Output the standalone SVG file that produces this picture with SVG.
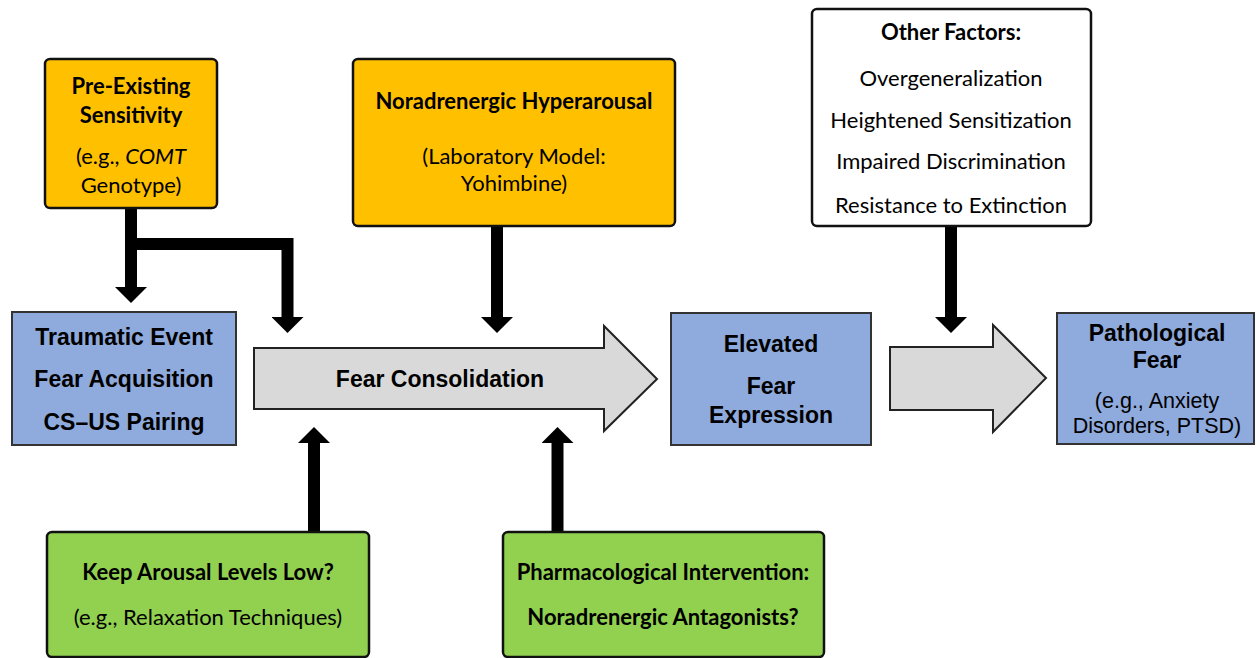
<svg xmlns="http://www.w3.org/2000/svg" width="1256" height="658" viewBox="0 0 1256 658">
  <defs>
    <marker id="head" viewBox="0 0 16 32" markerWidth="16" markerHeight="32" markerUnits="userSpaceOnUse" refX="0" refY="16" orient="auto">
      <path d="M0,0 L16,16 L0,32 z" fill="#000"/>
    </marker>
    <style>
      .amber { fill: #FFC000; stroke: #111; stroke-width: 2.5; }
      .green { fill: #92D050; stroke: #111; stroke-width: 2.5; }
      .plain { fill: #FFFFFF; stroke: #111; stroke-width: 2.5; }
      .blue { fill: #8FAADC; stroke: #333; stroke-width: 2; }
      .flow { fill: #D9D9D9; stroke: #222; stroke-width: 2; }
      .link { fill: none; stroke: #000; stroke-width: 12; stroke-linejoin: miter; marker-end: url(#head); }
      .cb { font-family: Lato, "Noto Sans", sans-serif; font-weight: bold; font-size: 22px; fill: #000; text-anchor: middle; }
      .cr { font-family: Lato, "Noto Sans", sans-serif; font-size: 22px; fill: #000; text-anchor: middle; }
      .ab { font-family: "Liberation Sans", Arial, sans-serif; font-weight: bold; font-size: 23px; fill: #000; text-anchor: middle; }
      .ar { font-family: "Liberation Sans", Arial, sans-serif; font-size: 21.5px; fill: #000; text-anchor: middle; }
    </style>
  </defs>

  <!-- connectors -->
  <g id="connectors">
    <path class="link" d="M131,208 V287"/>
    <path class="link" d="M131,244 H287.5 V317"/>
    <path class="link" d="M497,226 V317"/>
    <path class="link" d="M951,227 V317"/>
    <path class="link" d="M314,532 V443"/>
    <path class="link" d="M557.5,532 V443"/>
  </g>

  <g id="pre-existing-sensitivity">
    <rect class="amber" x="45" y="59" width="172" height="149" rx="5"/>
    <text class="cb" x="131" y="94" font-size="21">Pre-Existing</text>
    <text class="cb" x="131" y="123" font-size="21">Sensitivity</text>
    <text class="cr" x="131" y="164">(e.g., <tspan font-style="italic">COMT</tspan></text>
    <text class="cr" x="131" y="193">Genotype)</text>
  </g>

  <g id="noradrenergic-hyperarousal">
    <rect class="amber" x="353" y="59" width="322" height="167" rx="5"/>
    <text class="cb" x="514" y="109">Noradrenergic Hyperarousal</text>
    <text class="cr" x="514" y="164">(Laboratory Model:</text>
    <text class="cr" x="514" y="191">Yohimbine)</text>
  </g>

  <g id="other-factors">
    <rect class="plain" x="812" y="9" width="279" height="217" rx="5"/>
    <text class="cb" x="951" y="40">Other Factors:</text>
    <text class="cr" x="951" y="86">Overgeneralization</text>
    <text class="cr" x="951" y="128">Heightened Sensitization</text>
    <text class="cr" x="951" y="169">Impaired Discrimination</text>
    <text class="cr" x="951" y="213">Resistance to Extinction</text>
  </g>

  <g id="traumatic-event">
    <rect class="blue" x="12" y="312" width="224" height="133"/>
    <text class="ab" x="124" y="345">Traumatic Event</text>
    <text class="ab" x="124" y="387">Fear Acquisition</text>
    <text class="ab" x="124" y="430">CS–US Pairing</text>
  </g>

  <g id="fear-consolidation">
    <path class="flow" d="M254,348 H604 V326 L657,379 L604,431 V409 H254 z"/>
    <text class="ab" x="440" y="387">Fear Consolidation</text>
  </g>

  <g id="elevated-fear-expression">
    <rect class="blue" x="671" y="313" width="200" height="132"/>
    <text class="ab" x="771" y="352">Elevated</text>
    <text class="ab" x="771" y="394">Fear</text>
    <text class="ab" x="771" y="423">Expression</text>
  </g>

  <g id="progression">
    <path class="flow" d="M890,347 H993 V325 L1046,378 L993,432 V410 H890 z"/>
  </g>

  <g id="pathological-fear">
    <rect class="blue" x="1057" y="313" width="197" height="131"/>
    <text class="ab" x="1157" y="341">Pathological</text>
    <text class="ab" x="1157" y="368">Fear</text>
    <text class="ar" x="1157" y="408">(e.g., Anxiety</text>
    <text class="ar" x="1157" y="433">Disorders, PTSD)</text>
  </g>

  <g id="keep-arousal-low">
    <rect class="green" x="47" y="532" width="322" height="125" rx="5"/>
    <text class="cb" x="208" y="580">Keep Arousal Levels Low?</text>
    <text class="cr" x="208" y="625">(e.g., Relaxation Techniques)</text>
  </g>

  <g id="pharmacological-intervention">
    <rect class="green" x="503" y="532" width="321" height="125" rx="5"/>
    <text class="cb" x="663" y="580">Pharmacological Intervention:</text>
    <text class="cb" x="663" y="625">Noradrenergic Antagonists?</text>
  </g>
</svg>
